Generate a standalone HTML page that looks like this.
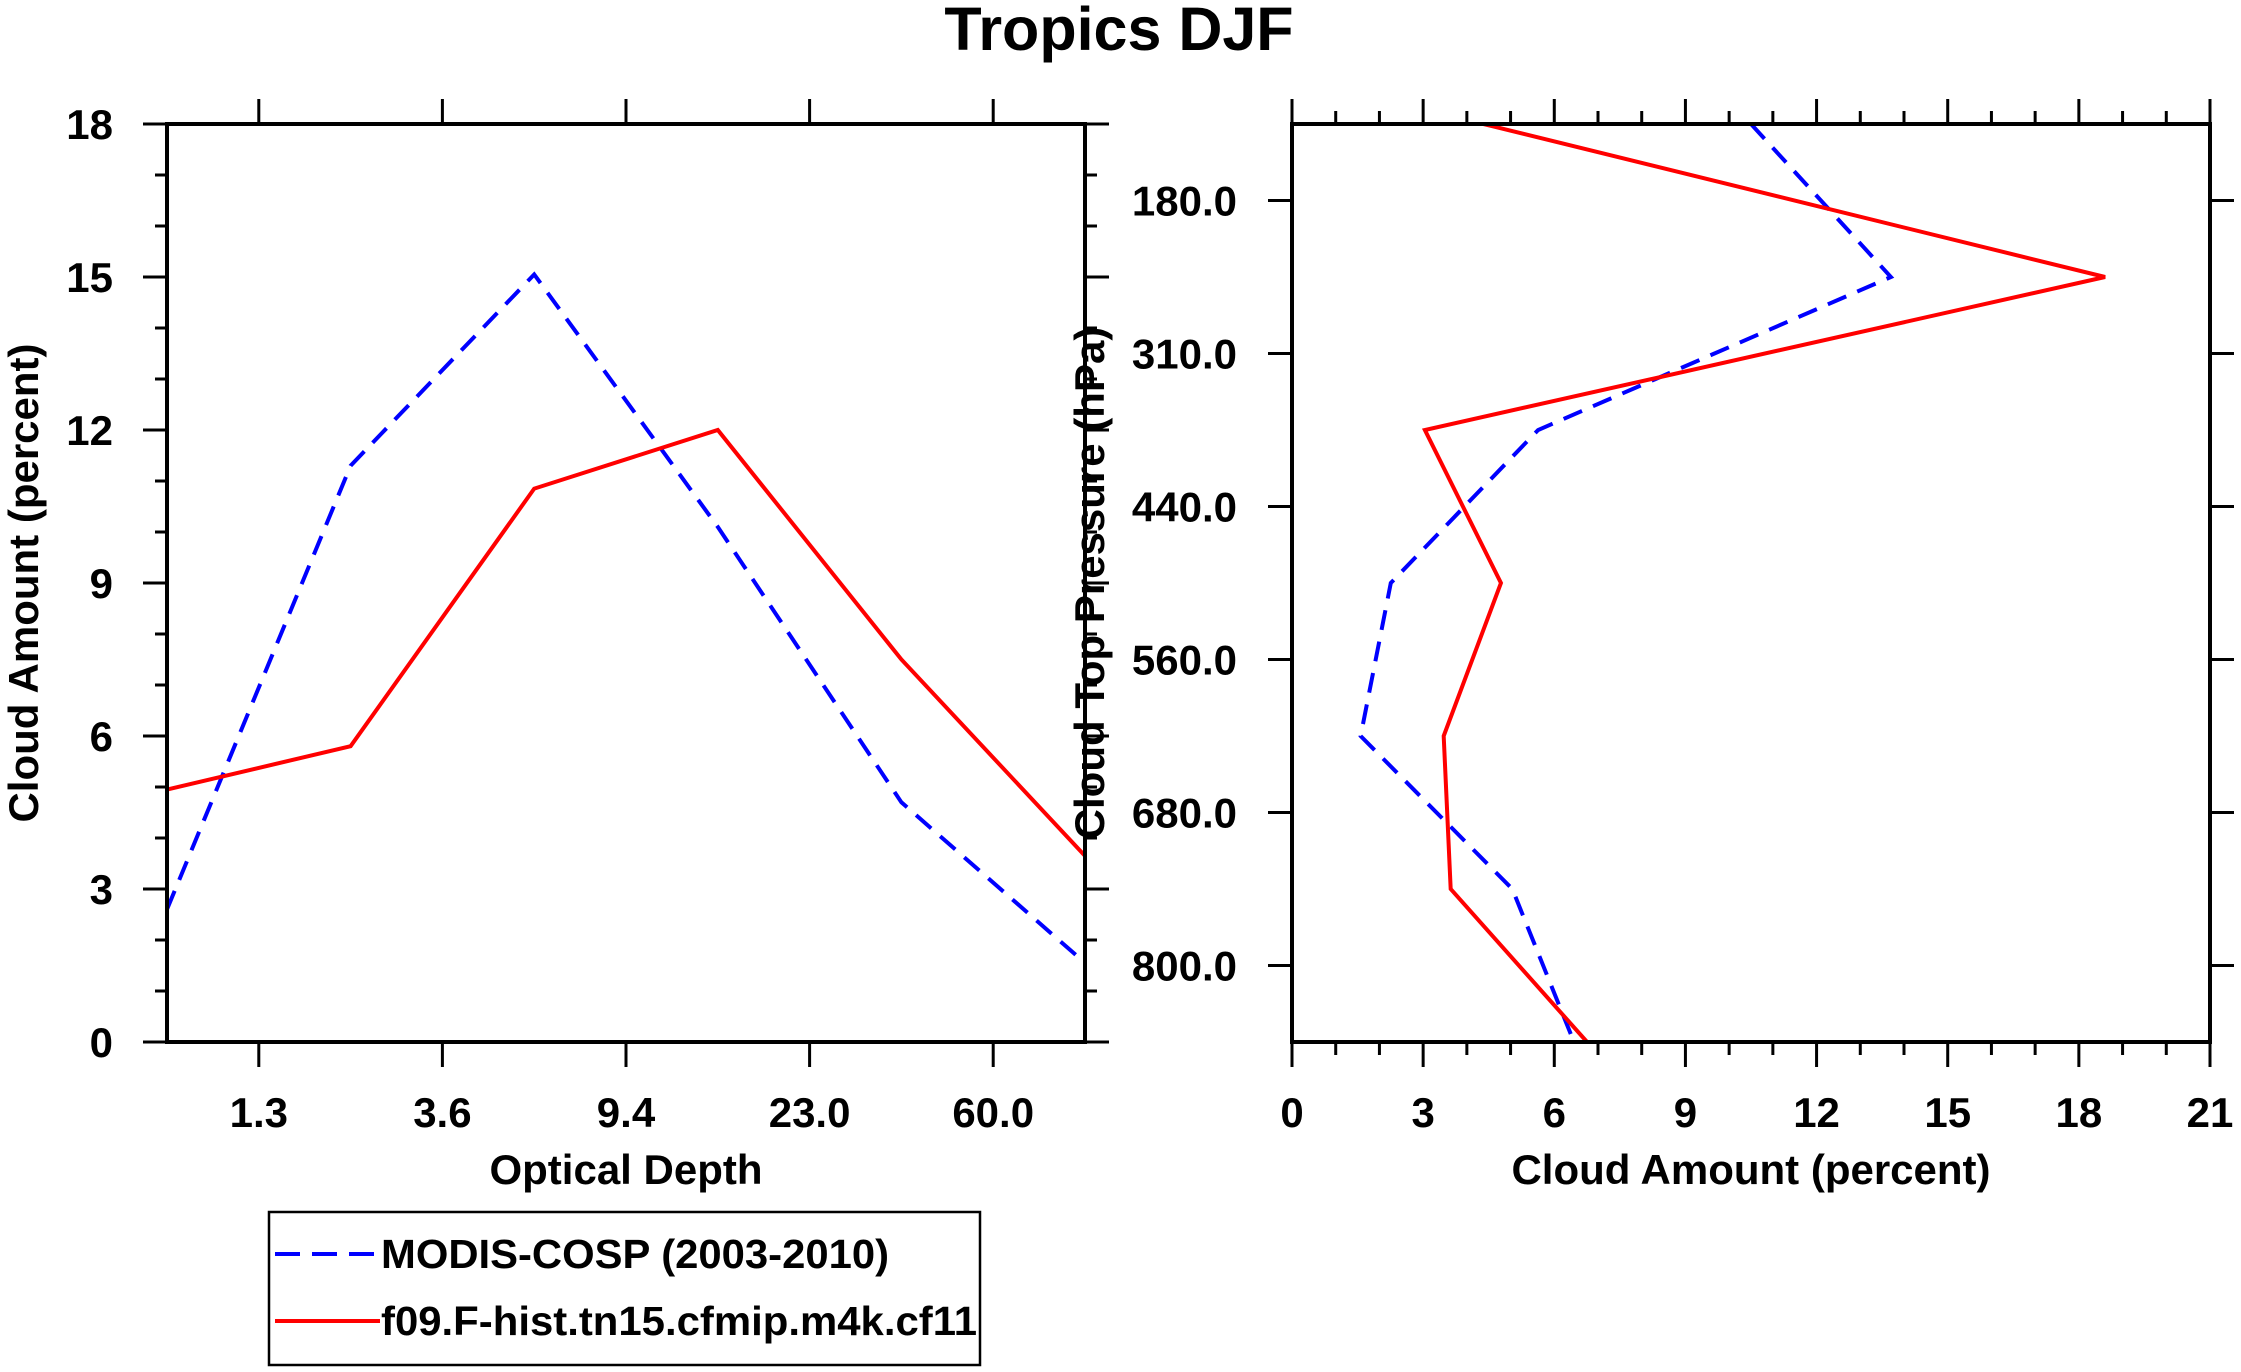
<!DOCTYPE html>
<html><head><meta charset="utf-8"><style>
html,body{margin:0;padding:0;background:#fff;}
svg{display:block;font-family:"Liberation Sans",Arial,sans-serif;font-weight:bold;}
</style></head><body>
<svg id="chart" width="2241" height="1372" viewBox="0 0 2241 1372" xmlns="http://www.w3.org/2000/svg">
<text x="1119" y="50" font-size="61" text-anchor="middle">Tropics DJF</text>
<g id="left"></g>
<g id="right"></g>
<g>
<rect x="269" y="1212" width="711" height="153" fill="none" stroke="#000" stroke-width="2.5"/>
<line x1="275" y1="1254" x2="380" y2="1254" stroke="#0000ff" stroke-width="4" stroke-dasharray="25,12"/>
<text x="381" y="1268" font-size="41" textLength="508" lengthAdjust="spacingAndGlyphs">MODIS-COSP (2003-2010)</text>
<line x1="275" y1="1321" x2="380" y2="1321" stroke="#ff0000" stroke-width="4"/>
<text x="381" y="1335" font-size="41" textLength="596" lengthAdjust="spacingAndGlyphs">f09.F-hist.tn15.cfmip.m4k.cf11</text>
</g>
</svg>
<script>
// Left panel data: cloud amount by optical depth bin
const tauLabels = ["1.3","3.6","9.4","23.0","60.0"];
const tauBinCenters = [0.5,1.5,2.5,3.5,4.5,5.5];
const modisTau = [2.6,11.3,15.05,10.1,4.7,1.55];
const modelTau = [4.95,5.8,10.85,12.0,7.5,3.65];
const leftYTicks = [0,3,6,9,12,15,18];
// Right panel data: cloud amount by cloud-top pressure
const ctpLabels = ["180.0","310.0","440.0","560.0","680.0","800.0"];
const ctpLevels = [0,1,2,3,4,5,6];
const modisCtp = [10.5,13.7,5.63,2.26,1.57,5.04,6.45];
const modelCtp = [4.38,18.6,3.04,4.78,3.47,3.63,6.75];
const rightXTicks = [0,3,6,9,12,15,18,21];

const NS="http://www.w3.org/2000/svg";
function mk(parent,tag,attrs){const e=document.createElementNS(NS,tag);for(const k in attrs)e.setAttribute(k,attrs[k]);parent.appendChild(e);return e;}

// ---- Left panel ----
const L=document.getElementById('left');


const lx0=167,lx1=1085,ly0=124,ly1=1042;
function lX(v){return lx0+(v-0.5)/5*(lx1-lx0);}
function lY(v){return ly1-v/18*(ly1-ly0);}
for(let v=0;v<=18;v++){
  const maj=v%3===0, len=maj?24:12;
  let t=mk(L,'line',{x1:lx0-len,x2:lx0,y1:lY(v),y2:lY(v),stroke:'#000','stroke-width':3});
  
  
  let t2=mk(L,'line',{x1:lx1,x2:lx1+len,y1:lY(v),y2:lY(v),stroke:'#000','stroke-width':3});
  
  
}
leftYTicks.forEach(v=>{
  let t=mk(L,'text',{x:113,y:lY(v)+15,'font-size':42,'text-anchor':'end'});
  t.textContent=String(v);
  
  
});
tauLabels.forEach((s,i)=>{
  const x=lX(i+1);
  let a=mk(L,'line',{x1:x,x2:x,y1:ly1,y2:ly1+25,stroke:'#000','stroke-width':3});
  
  
  let b=mk(L,'line',{x1:x,x2:x,y1:ly0,y2:ly0-25,stroke:'#000','stroke-width':3});
  
  
  let t=mk(L,'text',{x:x,y:1127,'font-size':42,'text-anchor':'middle'});
  t.textContent=s;
  
  
});
function series(g,xs,ys,fx,fy,color,dash,name){
  const pts=xs.map((x,i)=>fx(x,ys[i])+','+fy(x,ys[i])).join(' ');
  const a={points:pts,fill:'none',stroke:color,'stroke-width':4,'stroke-linejoin':'miter'};
  if(dash)a['stroke-dasharray']=dash;
  const p=mk(g,'polyline',a);
  
  
}
series(L,tauBinCenters,modisTau,(x,y)=>lX(x),(x,y)=>lY(y),'#0000ff','20,12','modis-tau-line');
series(L,tauBinCenters,modelTau,(x,y)=>lX(x),(x,y)=>lY(y),'#ff0000',null,'model-tau-line');
let lf=mk(L,'rect',{x:lx0,y:ly0,width:lx1-lx0,height:ly1-ly0,fill:'none',stroke:'#000','stroke-width':4});


let lxt=mk(L,'text',{x:626,y:1184,'font-size':42,'text-anchor':'middle'});
lxt.textContent='Optical Depth';


let lyt=mk(L,'text',{x:0,y:0,'font-size':42,'text-anchor':'middle',transform:'translate(38,583) rotate(-90)'});
lyt.textContent='Cloud Amount (percent)';



// ---- Right panel ----
const R=document.getElementById('right');


const rx0=1292,rx1=2210,ry0=124,ry1=1042;
function rX(v){return rx0+v/21*(rx1-rx0);}
function rY(v){return ry0+v/6*(ry1-ry0);}
for(let v=0;v<=21;v++){
  const maj=v%3===0,len=maj?25:13;
  let a=mk(R,'line',{x1:rX(v),x2:rX(v),y1:ry1,y2:ry1+len,stroke:'#000','stroke-width':3});
  
  
  let b=mk(R,'line',{x1:rX(v),x2:rX(v),y1:ry0,y2:ry0-len,stroke:'#000','stroke-width':3});
  
  
}
rightXTicks.forEach(v=>{
  let t=mk(R,'text',{x:rX(v),y:1127,'font-size':42,'text-anchor':'middle'});
  t.textContent=String(v);
  
  
});
ctpLabels.forEach((s,i)=>{
  const y=rY(i+0.5);
  let a=mk(R,'line',{x1:rx0-24,x2:rx0,y1:y,y2:y,stroke:'#000','stroke-width':3});
  
  
  let b=mk(R,'line',{x1:rx1,x2:rx1+24,y1:y,y2:y,stroke:'#000','stroke-width':3});
  
  
  let t=mk(R,'text',{x:1237,y:y+15,'font-size':42,'text-anchor':'end'});
  t.textContent=s;
  
  
});
series(R,ctpLevels,modisCtp,(l,v)=>rX(v),(l,v)=>rY(l),'#0000ff','20,12','modis-ctp-line');
series(R,ctpLevels,modelCtp,(l,v)=>rX(v),(l,v)=>rY(l),'#ff0000',null,'model-ctp-line');
let rf=mk(R,'rect',{x:rx0,y:ry0,width:rx1-rx0,height:ry1-ry0,fill:'none',stroke:'#000','stroke-width':4});


let rxt=mk(R,'text',{x:1751,y:1184,'font-size':42,'text-anchor':'middle'});
rxt.textContent='Cloud Amount (percent)';


let ryt=mk(R,'text',{x:0,y:0,'font-size':42,'text-anchor':'middle',transform:'translate(1104,583) rotate(-90)'});
ryt.textContent='Cloud Top Pressure (hPa)';


</script>
</body></html>
